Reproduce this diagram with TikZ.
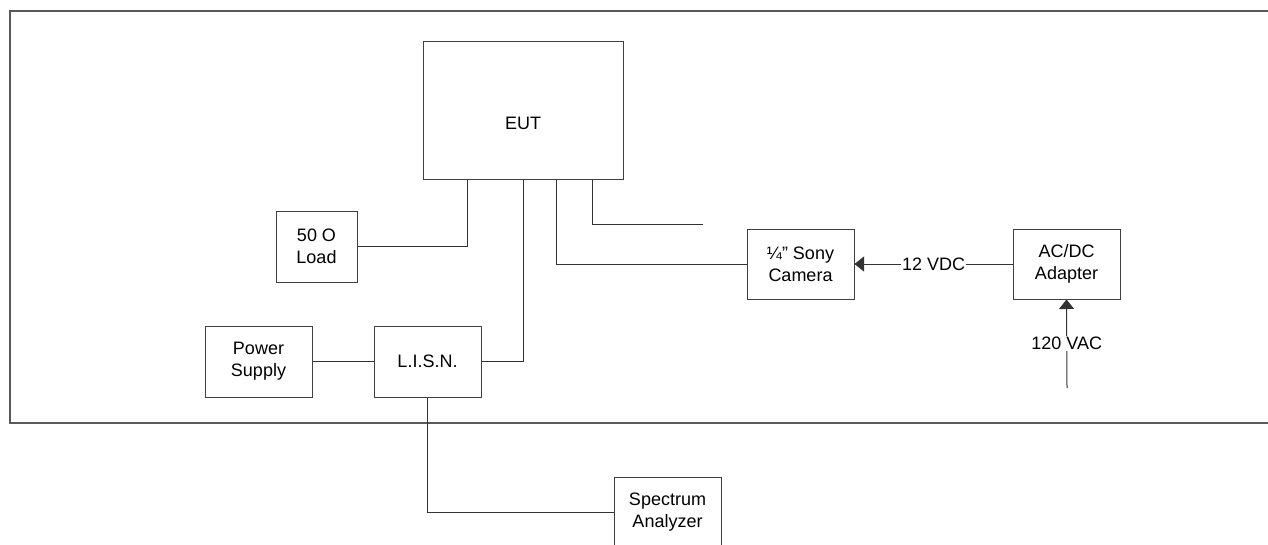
\documentclass[tikz,border=0pt]{standalone}
\usepackage{fontspec}
\setmainfont{Liberation Sans}
\usetikzlibrary{arrows.meta}
\tikzset{
  blk/.style={draw=black!75, line width=1pt, align=center, inner sep=0pt,
    font=\fontsize{18}{22}\selectfont},
  wire/.style={draw=black!80, line width=1pt},
  arr/.style={wire, -{Triangle[length=9.5pt,width=15pt]}},
  lbl/.style={fill=white, inner sep=1pt, font=\fontsize{18}{22}\selectfont},
  frame/.style={draw=black!65, line width=1.2pt}
}
\begin{document}
\begin{tikzpicture}[x=1pt,y=-1pt]
\useasboundingbox (0,0) rectangle (1268,544);
\clip (0,0) rectangle (1268,544);
\fill[white] (0,0) rectangle (1268,544);
% outer frame
\draw[frame] (1290,11) -- (10,11) -- (10,423) -- (1290,423);
% boxes
\node[blk, minimum width=200pt, minimum height=138pt,
  label={[anchor=center, yshift=-13.5pt, font=\fontsize{18}{22}\selectfont]center:EUT}] (eut) at (523,110) {};
\node[blk, minimum width=81pt, minimum height=71pt] (load) at (316.5,246.5) {50 O\\Load};
\node[blk, minimum width=107pt, minimum height=71pt] (power) at (258.5,361.5) {Power\\Supply};
\node[blk, minimum width=107pt, minimum height=71pt] (lisn) at (427.5,361.5) {L.I.S.N.};
\node[blk, minimum width=107pt, minimum height=70pt] (cam) at (800.5,264) {¼” Sony\\Camera};
\node[blk, minimum width=107pt, minimum height=70pt] (adapter) at (1066.5,264) {AC/DC\\Adapter};
\node[blk, minimum width=107pt, minimum height=70pt] (spec) at (667.5,512) {Spectrum\\Analyzer};
% free ends
\coordinate (freeend) at (703,224);
\coordinate (acin) at (1067,388);
% connectors
\draw[wire] ([xshift=-56pt]eut.south) |- (load.east);
\draw[wire] (eut.south) |- (lisn.east);
\draw[wire] ([xshift=33pt]eut.south) |- (cam.west);
\draw[wire] ([xshift=69pt]eut.south) |- (freeend);
\draw[wire] (power.east) -- (lisn.west);
\draw[wire] (lisn.south) |- (spec.west);
\draw[arr] (adapter.west) -- node[lbl] {12 VDC} (cam.east);
\draw[arr] (acin) -- node[lbl] {120 VAC} (adapter.south);
\end{tikzpicture}
\end{document}
